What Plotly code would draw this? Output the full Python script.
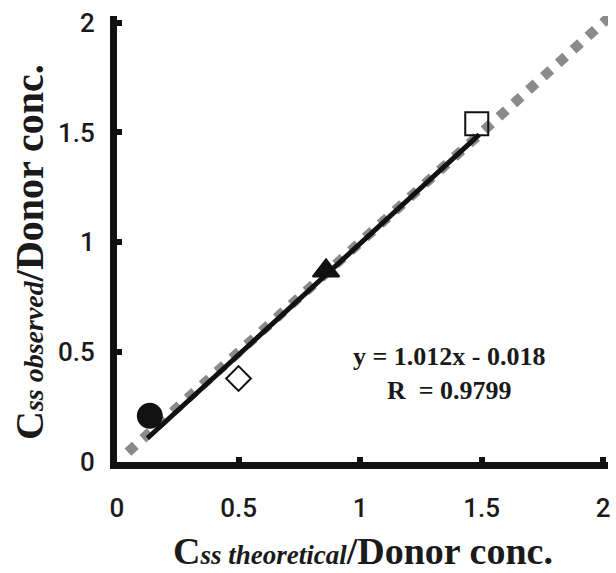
import plotly.graph_objects as go

# Data
pt_x = [0.135, 0.50, 0.86, 1.48]
pt_y = [0.21, 0.38, 0.87, 1.54]
pt_symbols = ["circle", "diamond-open", "triangle-up", "square-open"]
pt_sizes = [24, 19, 23, 23]

fit_x = [0.125, 1.49]
fit_y = [0.108, 1.490]

ident_x = [0.045, 2.03]
ident_y = [0.045, 2.03]

x_ticks = [0, 0.5, 1, 1.5, 2]
y_ticks = [0, 0.5, 1, 1.5, 2]

fig = go.Figure()

fig.add_trace(go.Scatter(x=ident_x, y=ident_y, mode="lines",
                         line=dict(color="#8a8a8a", width=10, dash="10px,10px"),
                         showlegend=False))
fig.add_trace(go.Scatter(x=fit_x, y=fit_y, mode="lines",
                         line=dict(color="#111111", width=5), showlegend=False))
for x, y, s, sz in zip(pt_x, pt_y, pt_symbols, pt_sizes):
    fig.add_trace(go.Scatter(x=[x], y=[y], mode="markers",
                             marker=dict(symbol=s, size=sz, color="#111111",
                                         line=dict(color="#111111", width=2)),
                             showlegend=False))

tick_font = dict(family="Roboto, Liberation Sans, Arial", size=26, color="#1a1a1a", weight=500)
serif = "Liberation Serif, Times New Roman"

common = dict(showline=True, linecolor="#111111", linewidth=7, mirror=False,
              ticks="inside", ticklen=5, tickwidth=6, tickcolor="#111111",
              showgrid=False, zeroline=False, tickfont=tick_font)

fig.update_xaxes(range=[0, 2.02], tickvals=x_ticks, ticktext=[str(v) for v in x_ticks],
                 ticklabelstandoff=17, **common)
fig.update_yaxes(range=[0, 2.03], tickvals=y_ticks, ticktext=[str(v) for v in y_ticks],
                 ticklabelstandoff=10, **common)

fig.add_annotation(x=0.5, y=-0.2, xref="paper", yref="paper", showarrow=False,
                   text="<b>C<i><span style='font-size:27px'>ss theoretical</span></i>/Donor conc.</b>",
                   font=dict(family=serif, size=38, color="#1a1a1a"),
                   xanchor="center", yanchor="middle")
fig.add_annotation(x=-0.178, y=0.47, xref="paper", yref="paper", showarrow=False,
                   text="<b>C<i><span style='font-size:28px'>ss observed</span></i>/Donor conc.</b>",
                   font=dict(family=serif, size=40, color="#1a1a1a"), textangle=-90,
                   xanchor="center", yanchor="middle")

fig.add_annotation(x=1.367, y=0.405, xref="x", yref="y", showarrow=False,
                   text="<b>y = 1.012x - 0.018</b><br><b>R  = 0.9799</b>",
                   font=dict(family=serif, size=26, color="#1a1a1a"),
                   align="center", xanchor="center", yanchor="middle")

fig.update_layout(width=616, height=573, margin=dict(l=117, r=5, t=16, b=111),
                  plot_bgcolor="white", paper_bgcolor="white", showlegend=False)

fig.write_html("out.html")
